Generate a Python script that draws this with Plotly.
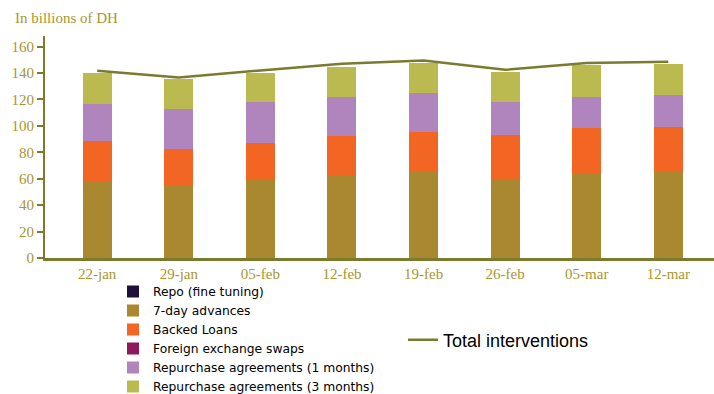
import plotly.graph_objects as go

dates = ["22-jan", "29-jan", "05-feb", "12-feb", "19-feb", "26-feb", "05-mar", "12-mar"]
repo_fine = [0, 0, 0, 0, 0, 0, 0, 0]
advances_7d = [58, 55.3, 59.1, 62.9, 65.4, 59.6, 64.1, 65.4]
backed_loans = [30.6, 27.5, 28.3, 29.5, 30.3, 33.6, 34.1, 33.8]
fx_swaps = [0, 0, 0, 0, 0, 0, 0, 0]
repurchase_1m = [28, 30.3, 30.3, 29.8, 29.1, 24.5, 24, 24.3]
repurchase_3m = [23.5, 22.3, 22.5, 22.5, 22.7, 23.2, 24, 23.5]
total = [141.7, 136.6, 141.9, 147, 149.5, 142.4, 147.5, 148.5]

olive = "#7B7B2E"
tickcol = "#A8962E"

fig = go.Figure()
bar_series = [
    ("Repo (fine tuning)", repo_fine, "#1E0F3C"),
    ("7-day advances", advances_7d, "#AA8830"),
    ("Backed Loans", backed_loans, "#F26522"),
    ("Foreign exchange swaps", fx_swaps, "#8E1A5A"),
    ("Repurchase agreements (1 months)", repurchase_1m, "#B085BE"),
    ("Repurchase agreements (3 months)", repurchase_3m, "#BABA50"),
]
for name, vals, col in bar_series:
    fig.add_trace(go.Bar(x=dates, y=vals, name=name, marker_color=col,
                         marker_line_width=0, width=0.355, legend="legend"))

fig.add_trace(go.Scatter(x=dates, y=total, name="Total interventions", mode="lines",
                         line=dict(color=olive, width=2.5), legend="legend2"))

fig.update_layout(
    width=714, height=394,
    barmode="stack",
    plot_bgcolor="white", paper_bgcolor="white",
    margin=dict(l=45, r=0, t=36, b=136, autoexpand=False),
    font=dict(family="Liberation Serif", color=tickcol, size=15),
    xaxis=dict(range=[-0.64, 7.56], showline=True, linecolor=olive, linewidth=3,
               ticks="", showgrid=False, tickfont=dict(size=15, color=tickcol),
               automargin=False),
    yaxis=dict(range=[0, 168], showline=True, linecolor=olive, linewidth=2,
               ticks="outside", ticklen=6, tickcolor=olive, tickwidth=2,
               dtick=20, showgrid=False, zeroline=False, automargin=False,
               tickfont=dict(size=15, color=tickcol)),
    legend=dict(xref="container", yref="container", x=113/714, y=1-277/394,
                xanchor="left", yanchor="top", traceorder="normal",
                font=dict(family="DejaVu Sans", size=12.3, color="black"),
                bgcolor="rgba(0,0,0,0)", tracegroupgap=0),
    legend2=dict(xref="container", yref="container", x=403/714, y=1-340/394,
                 xanchor="left", yanchor="middle",
                 font=dict(family="Liberation Sans", size=18, color="black"),
                 bgcolor="rgba(0,0,0,0)"),
    annotations=[dict(text="In billions of DH", xref="paper", yref="paper",
                      x=-32/669, y=1 + 8/222, xanchor="left", yanchor="bottom",
                      showarrow=False, font=dict(size=15, color=tickcol,
                                                 family="Liberation Serif"))],
)

fig.write_html("out.html")
